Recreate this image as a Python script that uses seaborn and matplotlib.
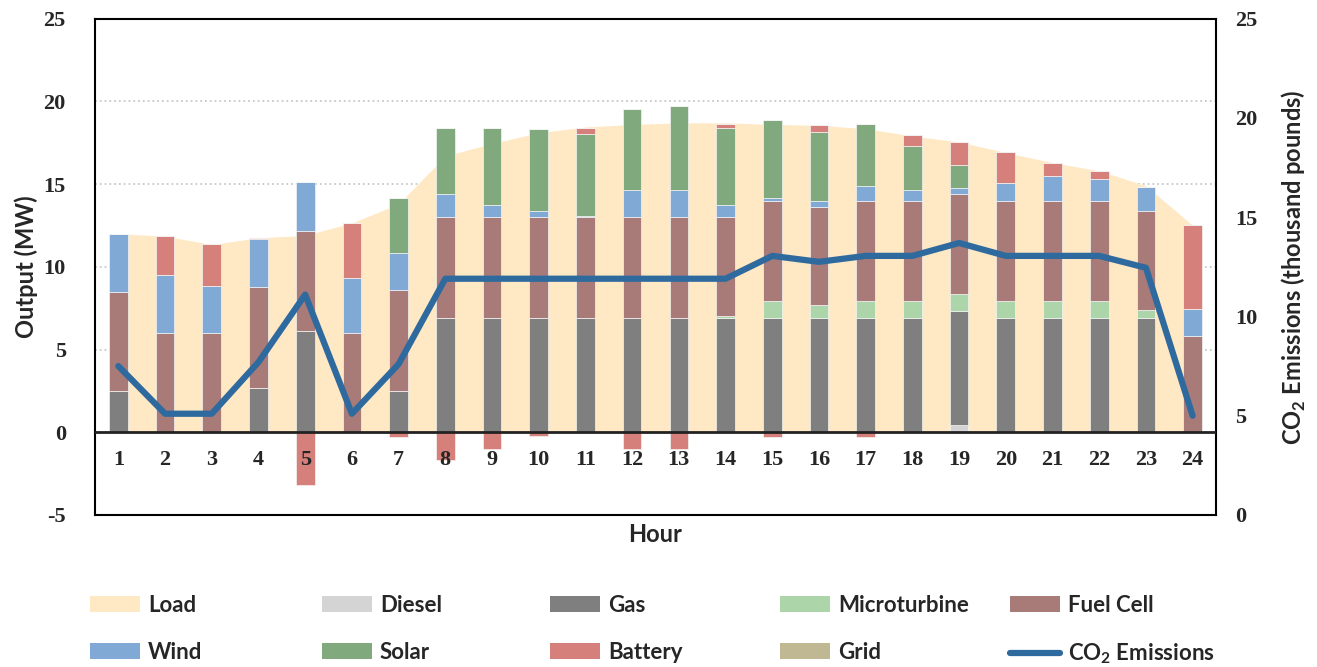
import numpy as np
import seaborn as sns
import matplotlib.pyplot as plt
from matplotlib.patches import Patch
from matplotlib.lines import Line2D

# hourly dispatch (MW)
hours = list(range(1, 25))
load = [12.0, 11.85, 11.35, 11.75, 11.9, 12.65, 13.8, 16.7, 17.45, 18.1, 18.45, 18.6,
        18.7, 18.7, 18.6, 18.55, 18.35, 17.9, 17.55, 16.9, 16.3, 15.8, 14.9, 12.5]
diesel = [0, 0, 0, 0, 0, 0, 0, 0, 0, 0, 0, 0, 0, 0, 0, 0, 0, 0, 0.44, 0, 0, 0, 0, 0]
gas = [2.5, 0, 0, 2.7, 6.1, 0, 2.5, 6.9, 6.9, 6.9, 6.9, 6.9,
       6.9, 6.9, 6.9, 6.9, 6.9, 6.9, 6.9, 6.9, 6.9, 6.9, 6.9, 0]
microturbine = [0, 0, 0, 0, 0, 0, 0, 0, 0, 0, 0, 0,
                0, 0.15, 1.05, 0.8, 1.05, 1.05, 1.0, 1.05, 1.05, 1.05, 0.5, 0]
fuel_cell = [5.95, 6.0, 6.0, 6.05, 6.05, 6.0, 6.1, 6.1, 6.1, 6.1, 6.1, 6.1,
             6.1, 5.95, 6.05, 5.9, 6.05, 6.05, 6.05, 6.05, 6.05, 6.05, 5.95, 5.8]
wind = [3.55, 3.5, 2.85, 2.9, 3.0, 3.35, 2.25, 1.4, 0.75, 0.4, 0.1, 1.65,
        1.65, 0.75, 0.15, 0.4, 0.9, 0.65, 0.4, 1.05, 1.5, 1.3, 1.5, 1.65]
solar = [0, 0, 0, 0, 0, 0, 3.3, 4.0, 4.65, 4.9, 4.95, 4.9,
         5.05, 4.65, 4.75, 4.15, 3.75, 2.65, 1.35, 0, 0, 0, 0, 0]
battery = [0, 2.35, 2.5, 0.1, -3.2, 3.3, -0.3, -1.7, -1.0, -0.2, 0.35, -1.0,
           -1.0, 0.25, -0.3, 0.4, -0.3, 0.65, 1.4, 1.9, 0.75, 0.5, 0, 5.05]
grid = [0] * 24
# CO2 emissions (thousand pounds)
co2 = [7.5, 5.1, 5.1, 7.7, 11.1, 5.1, 7.6, 11.9, 11.9, 11.9, 11.9, 11.9,
       11.9, 11.9, 13.05, 12.75, 13.05, 13.05, 13.7, 13.05, 13.05, 13.05, 12.45, 5.0]

colors = {
    'Load': '#FFE8C4', 'Diesel': '#D4D4D4', 'Gas': '#7F7F7F', 'Microturbine': '#ACD6A9',
    'Fuel Cell': '#A87B78', 'Wind': '#80A9D6', 'Solar': '#80A97E', 'Battery': '#D6807B',
    'Grid': '#BFB893', 'CO2': '#2F6A9F',
}

sns.set_theme(style='white')
plt.rcParams['font.family'] = ['Lato', 'DejaVu Sans']
plt.rcParams['mathtext.fontset'] = 'custom'
plt.rcParams['mathtext.rm'] = 'Lato'
plt.rcParams['mathtext.bf'] = 'Lato:bold'
plt.rcParams['axes.unicode_minus'] = False

serif = 'Liberation Serif'

fig = plt.figure(figsize=(13.17, 6.67), dpi=100)
ax = fig.add_axes([95 / 1317, 1 - 515 / 667, (1216 - 95) / 1317, (515 - 18.6) / 667])
x = np.arange(len(hours))

# load area behind the bars
ax.fill_between(x, load, color=colors['Load'], lw=0, zorder=1)

# stacked generation bars
stack = [('Diesel', diesel), ('Gas', gas), ('Microturbine', microturbine),
         ('Fuel Cell', fuel_cell), ('Wind', wind), ('Solar', solar),
         ('Battery', battery), ('Grid', grid)]
bottom = np.zeros(len(hours))
for name, vals in stack:
    v = np.array(vals, dtype=float)
    pos = np.clip(v, 0, None)
    ax.bar(x, pos, bottom=bottom, width=0.4, color=colors[name],
           edgecolor='#f4f4f4', linewidth=0.5, zorder=2)
    bottom += pos
    neg = np.clip(v, None, 0)
    if (neg < 0).any():
        ax.bar(x, neg, width=0.4, color=colors[name],
               edgecolor='#f4f4f4', linewidth=0.5, zorder=2)

ax.axhline(0, color='#222222', lw=2, zorder=3)

ax.set_xlim(-0.5, len(hours) - 0.5)
ax.set_ylim(-5, 25)
ax.set_yticks(range(-5, 30, 5))
ax.set_xticks([])
ax.yaxis.grid(True, ls=':', color='#c8c8c8', lw=1.3)
ax.set_axisbelow(True)
ax.tick_params(axis='y', length=0, pad=21)
for lab in ax.get_yticklabels():
    lab.set_fontfamily(serif)
    lab.set_fontweight('bold')
    lab.set_fontsize(16)
for sp in ax.spines.values():
    sp.set_color('black')
    sp.set_linewidth(1.5)

ax.set_ylabel('Output (MW)', fontsize=17, fontweight='bold', labelpad=4)
ax.set_xlabel('Hour', fontsize=17, fontweight='bold', labelpad=6)

# hour labels sit under the zero line, drawn over the bars
sec = ax.secondary_xaxis(1 / 6)
sec.set_zorder(10)
sec.set_xticks(x, labels=[str(h) for h in hours])
sec.tick_params(length=0, pad=13)
sec.spines['bottom'].set_visible(False)
for lab in sec.get_xticklabels():
    lab.set_fontfamily(serif)
    lab.set_fontweight('bold')
    lab.set_fontsize(16)

# CO2 emissions on the right axis
ax2 = ax.twinx()
sns.lineplot(x=x, y=co2, ax=ax2, color=colors['CO2'], lw=4.5, legend=False)
ax2.set_ylim(0, 25)
ax2.set_yticks(range(0, 30, 5))
ax2.tick_params(axis='y', length=0, pad=14)
for lab in ax2.get_yticklabels():
    lab.set_fontfamily(serif)
    lab.set_fontweight('bold')
    lab.set_fontsize(16)
ax2.set_ylabel(r'CO$_{\mathbf{2}}$ Emissions (thousand pounds)', fontsize=17,
               fontweight='bold', labelpad=16)
for sp in ax2.spines.values():
    sp.set_visible(False)

# legend: five columns, two rows
columns = [['Load', 'Wind'], ['Diesel', 'Solar'], ['Gas', 'Battery'],
           ['Microturbine', 'Grid'], ['Fuel Cell', 'CO2']]
col_x = [90, 322, 550, 780, 1010]
for names, cx in zip(columns, col_x):
    handles, labels = [], []
    for n in names:
        if n == 'CO2':
            handles.append(Line2D([], [], color=colors['CO2'], lw=4.5))
            labels.append(r'CO$_{\mathbf{2}}$ Emissions')
        else:
            handles.append(Patch(facecolor=colors[n], edgecolor='none'))
            labels.append(n)
    fig.legend(handles, labels, loc='upper left', bbox_to_anchor=(cx / 1317, 1 - 595 / 667),
               frameon=False, borderpad=0, borderaxespad=0, handlelength=2.25,
               handletextpad=0.36, labelspacing=1.15,
               prop={'size': 16, 'weight': 'bold'})

fig.savefig('out.png', dpi=100)
